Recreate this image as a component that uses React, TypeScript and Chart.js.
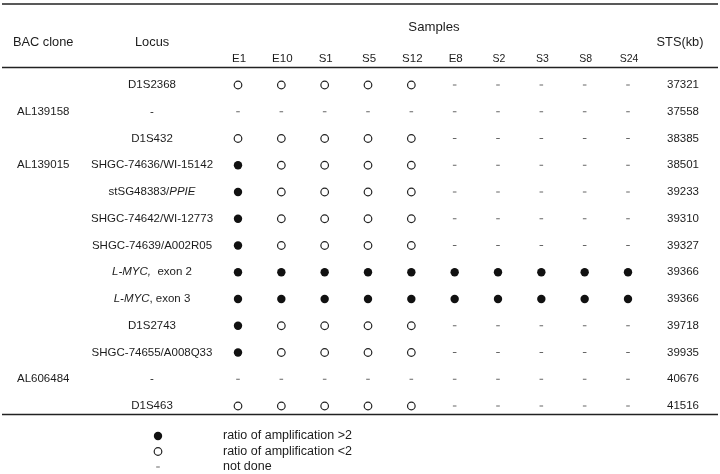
import React, { useEffect, useRef } from 'react';
import { Chart, registerables } from 'chart.js';

Chart.register(...registerables);

// ---- data ----
const samples = ['E1', 'E10', 'S1', 'S5', 'S12', 'E8', 'S2', 'S3', 'S8', 'S24'];
const bacClones = ['', 'AL139158', '', 'AL139015', '', '', '', '', '', '', '', 'AL606484', ''];
// *...* marks italic segments
const loci = [
  'D1S2368',
  '-',
  'D1S432',
  'SHGC-74636/WI-15142',
  'stSG48383/*PPIE*',
  'SHGC-74642/WI-12773',
  'SHGC-74639/A002R05',
  '*L-MYC,*  exon 2',
  '*L-MYC*, exon 3',
  'D1S2743',
  'SHGC-74655/A008Q33',
  '-',
  'D1S463',
];
const stsKb = [37321, 37558, 38385, 38501, 39233, 39310, 39327, 39366, 39366, 39718, 39935, 40676, 41516];
// F = ratio of amplification >2, O = ratio <2, - = not done (one char per sample)
const statusRows = [
  'OOOOO-----',
  '----------',
  'OOOOO-----',
  'FOOOO-----',
  'FOOOO-----',
  'FOOOO-----',
  'FOOOO-----',
  'FFFFFFFFFF',
  'FFFFFFFFFF',
  'FOOOO-----',
  'FOOOO-----',
  '----------',
  'OOOOO-----',
];
const legendLabels = ['ratio of amplification >2', 'ratio of amplification <2', 'not done'];
const statusCodes = ['F', 'O', '-'];

const FONT = '"Liberation Sans", Arial, Helvetica, sans-serif';
const TEXT = '#1c1c1c';

function pointsFor(code: string) {
  const pts: { x: string; y: number }[] = [];
  statusRows.forEach((row, r) => {
    row.split('').forEach((c, i) => {
      if (c === code) pts.push({ x: samples[i], y: r });
    });
  });
  return pts;
}

function drawRich(ctx: CanvasRenderingContext2D, text: string, cx: number, cy: number, size: number) {
  const parts = text.split('*');
  const segs = parts.map((t, i) => ({ t, it: i % 2 === 1 })).filter((s) => s.t.length);
  let total = 0;
  for (const s of segs) {
    ctx.font = `${s.it ? 'italic ' : ''}${size}px ${FONT}`;
    total += ctx.measureText(s.t).width;
  }
  let xx = cx - total / 2;
  ctx.textAlign = 'left';
  for (const s of segs) {
    ctx.font = `${s.it ? 'italic ' : ''}${size}px ${FONT}`;
    ctx.fillText(s.t, xx, cy);
    xx += ctx.measureText(s.t).width;
  }
}

const tablePlugin = {
  id: 'tableText',
  beforeDraw(chart: any) {
    const { ctx } = chart;
    ctx.save();
    ctx.fillStyle = '#fff';
    ctx.fillRect(0, 0, chart.width, chart.height);
    ctx.restore();
  },
  afterDraw(chart: any) {
    const { ctx } = chart;
    const xs = chart.scales.x;
    const ys = chart.scales.y;
    const W = chart.width;
    const x0 = xs.getPixelForValue(0);
    const xN = xs.getPixelForValue(samples.length - 1);
    const yTop = ys.getPixelForValue(0);
    const yBot = ys.getPixelForValue(statusRows.length - 1);
    const locusX = x0 - 86;
    const stsX = xN + 55;

    ctx.save();
    // rules
    ctx.strokeStyle = '#222';
    ctx.lineWidth = 1.4;
    for (const ly of [4, yTop - 17.5, yBot + 8.5]) {
      ctx.beginPath();
      ctx.moveTo(2, ly);
      ctx.lineTo(W - 2, ly);
      ctx.stroke();
    }

    ctx.fillStyle = TEXT;
    ctx.textBaseline = 'middle';
    // headers
    ctx.font = `12.8px ${FONT}`;
    ctx.textAlign = 'left';
    ctx.fillText('BAC clone', 13, 42);
    ctx.fillText('Locus', 135, 42);
    ctx.textAlign = 'center';
    ctx.fillText('STS(kb)', stsX - 3, 42);
    ctx.font = `13.2px ${FONT}`;
    ctx.fillText('Samples', (x0 + xN) / 2 + 1, 27);
    samples.forEach((s, i) => {
      ctx.font = `${i < 6 ? 11.5 : 10.5}px ${FONT}`;
      ctx.fillText(s, xs.getPixelForValue(i) + 1, 59);
    });

    // rows
    loci.forEach((l, r) => {
      const yy = ys.getPixelForValue(r);
      ctx.textAlign = 'left';
      ctx.font = `11.5px ${FONT}`;
      if (bacClones[r]) ctx.fillText(bacClones[r], 17, yy);
      drawRich(ctx, l, locusX, yy, 11.5);
      ctx.textAlign = 'center';
      ctx.font = `11.5px ${FONT}`;
      ctx.fillText(String(stsKb[r]), stsX, yy);
    });

    // legend
    const ds = chart.data.datasets;
    const lx = 158;
    const ly0 = yBot + 30;
    ds.forEach((d: any, i: number) => {
      const yy = ly0 + i * 15.5;
      ctx.beginPath();
      if (d.pointStyle === 'line') {
        ctx.strokeStyle = d.borderColor;
        ctx.lineWidth = d.borderWidth;
        ctx.moveTo(lx - d.pointRadius, yy);
        ctx.lineTo(lx + d.pointRadius, yy);
        ctx.stroke();
      } else {
        ctx.arc(lx, yy, d.pointRadius, 0, Math.PI * 2);
        ctx.fillStyle = d.backgroundColor;
        ctx.fill();
        if (d.borderWidth) {
          ctx.strokeStyle = d.borderColor;
          ctx.lineWidth = d.borderWidth;
          ctx.stroke();
        }
      }
      ctx.fillStyle = TEXT;
      ctx.textAlign = 'left';
      ctx.font = `12.5px ${FONT}`;
      ctx.fillText(d.label, 223, yy);
    });
    ctx.restore();
  },
};

export default function App() {
  const ref = useRef<HTMLCanvasElement | null>(null);
  useEffect(() => {
    document.body.style.margin = '0';
    const canvas = ref.current;
    if (!canvas) return;
    const chart = new Chart(canvas, {
      type: 'scatter',
      data: {
        datasets: [
          {
            label: legendLabels[0],
            data: pointsFor(statusCodes[0]),
            pointStyle: 'circle',
            pointRadius: 4.2,
            backgroundColor: '#111',
            borderColor: '#111',
            borderWidth: 0,
            clip: false,
          },
          {
            label: legendLabels[1],
            data: pointsFor(statusCodes[1]),
            pointStyle: 'circle',
            pointRadius: 3.8,
            backgroundColor: '#fff',
            borderColor: '#222',
            borderWidth: 1.2,
            clip: false,
          },
          {
            label: legendLabels[2],
            data: pointsFor(statusCodes[2]),
            pointStyle: 'line',
            pointRadius: 1.8,
            backgroundColor: '#666',
            borderColor: '#666',
            borderWidth: 1,
            clip: false,
          },
        ] as any,
      },
      options: {
        responsive: false,
        animation: false,
        events: [],
        layout: { padding: { left: 238, right: 92, top: 85, bottom: 68 } },
        scales: {
          x: { type: 'category', labels: samples, display: false, offset: false },
          y: { type: 'linear', min: 0, max: statusRows.length - 1, reverse: true, display: false },
        },
        plugins: { legend: { display: false }, tooltip: { enabled: false } },
      } as any,
      plugins: [tablePlugin],
    });
    return () => chart.destroy();
  }, []);
  return (
    <div style={{ position: 'absolute', left: 0, top: 0, width: 720, height: 474 }}>
      <canvas ref={ref} width={720} height={474} style={{ display: 'block' }} />
    </div>
  );
}
